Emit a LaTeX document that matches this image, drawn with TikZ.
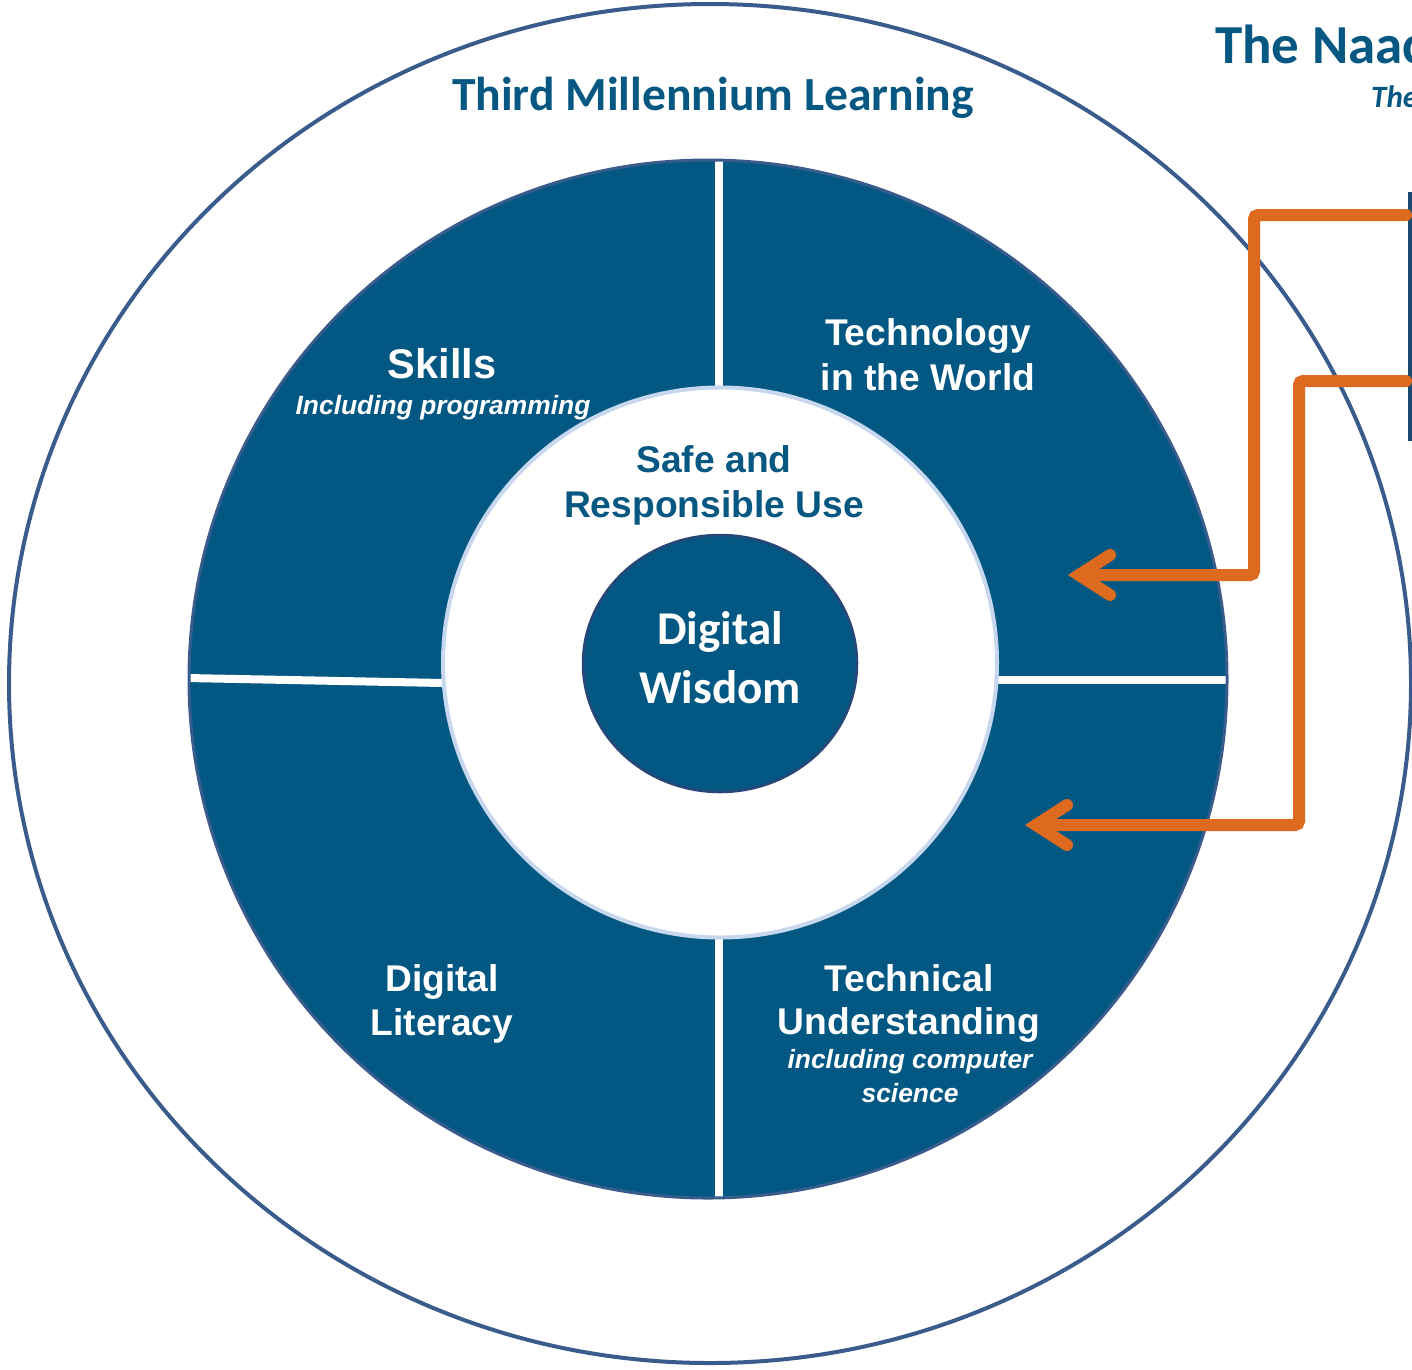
\documentclass[tikz,border=0pt]{standalone}
\usepackage{fontspec}
\setmainfont{Liberation Sans}
\newfontfamily\carlito{Carlito}
\usetikzlibrary{shapes.geometric}
\definecolor{donutblue}{RGB}{2,88,131}
\definecolor{ringedge}{RGB}{58,92,140}
\definecolor{titleblue}{RGB}{6,88,130}
\definecolor{orangec}{RGB}{221,106,30}
\definecolor{innerring}{RGB}{198,215,238}
\definecolor{wisdomedge}{RGB}{40,70,120}
\definecolor{boxedge}{RGB}{25,72,112}
\tikzset{
  segtext/.style={text=white, inner sep=0, font=\fontsize{37.2}{37.2}\bfseries\selectfont},
  subtext/.style={text=white, inner sep=0, font=\fontsize{26.4}{26.4}\bfseries\itshape\selectfont},
  divider/.style={draw=white, line width=8},
  orangeline/.style={draw=orangec, line width=12, rounded corners=4, line cap=round},
  chevron/.style={draw=orangec, line width=12, line cap=round, line join=miter},
}
\begin{document}
\begin{tikzpicture}[x=1pt,y=-1pt]
\useasboundingbox (0,0) rectangle (1412,1369);
\clip (0,0) rectangle (1412,1369);
% outer ring
\draw[ringedge, line width=4] (710,683.5) ellipse [x radius=701, y radius=679.5];
% donut
\fill[donutblue] (708,679) circle [radius=519];
\draw[divider] (719,158) -- (719,390);
\draw[divider] (719,935) -- (719,1202);
\draw[divider] (996,680) -- (1228,680);
\draw[divider] (187,678) -- (444,683);
\draw[ringedge, line width=3] (708,679) circle [radius=519];
% inner white circle
\draw[fill=white, draw=innerring, line width=4] (720,662.5) ellipse [x radius=277, y radius=275];
% digital wisdom
\node[ellipse, draw=wisdomedge, line width=2.5, fill=donutblue, minimum width=274, minimum height=257, inner sep=0] (wisdom) at (720,663.5) {};
\node[anchor=base, text=white, inner sep=0, font=\carlito\fontsize{47}{47}\bfseries\selectfont] (dw1) at (720,644) {Digital};
\node[anchor=base, text=white, inner sep=0, font=\carlito\fontsize{47}{47}\bfseries\selectfont] (dw2) at (720,703) {Wisdom};
% titles
\node[anchor=base, text=titleblue, inner sep=0, font=\carlito\fontsize{47.6}{47.6}\bfseries\selectfont] (t3m) at (713,110) {Third Millennium Learning};
\node[anchor=base west, text=titleblue, inner sep=0, font=\carlito\fontsize{55}{55}\bfseries\selectfont] (naace) at (1215,63) {The Naac};
\node[anchor=base west, text=titleblue, inner sep=0, font=\carlito\fontsize{31}{31}\bfseries\itshape\selectfont] (naacesub) at (1371,107) {The};
% segment texts
\node[segtext, anchor=base, font=\fontsize{41.5}{41.5}\bfseries\selectfont] (skills) at (442,378) {Skills};
\node[subtext, anchor=base] (skillsub) at (443,414) {Including programming};
\node[segtext, anchor=base] (tech1) at (928,345) {Technology};
\node[segtext, anchor=base] (tech2) at (928,390) {in the World};
\node[segtext, anchor=base, text=titleblue] (safe1) at (714,472) {Safe and};
\node[segtext, anchor=base, text=titleblue] (safe2) at (714,517) {Responsible Use};
\node[segtext, anchor=base] (dl1) at (442,991) {Digital};
\node[segtext, anchor=base] (dl2) at (442,1035) {Literacy};
\node[segtext, anchor=base] (tu1) at (909,991) {Technical};
\node[segtext, anchor=base] (tu2) at (909,1034) {Understanding};
\node[subtext, anchor=base] (tu3) at (910,1068) {including computer};
\node[subtext, anchor=base] (tu4) at (910,1102) {science};
% right box
\node[draw=boxedge, line width=3.5, fill=white, anchor=north west, minimum width=80, minimum height=245, inner sep=0] (box) at (1408,192) {};
% orange connectors
\coordinate (a1s) at (1406,215);
\coordinate (a1v) at (1079,575);
\coordinate (a2s) at (1406,381);
\coordinate (a2v) at (1036,825);
\draw[orangeline] (a1s) -- (1254,215) |- (a1v);
\draw[chevron] ([shift={(31,-20)}]a1v) -- (a1v) -- ([shift={(31,20)}]a1v);
\draw[orangeline] (a2s) -- (1299,381) |- (a2v);
\draw[chevron] ([shift={(31,-20)}]a2v) -- (a2v) -- ([shift={(31,20)}]a2v);
\end{tikzpicture}
\end{document}
